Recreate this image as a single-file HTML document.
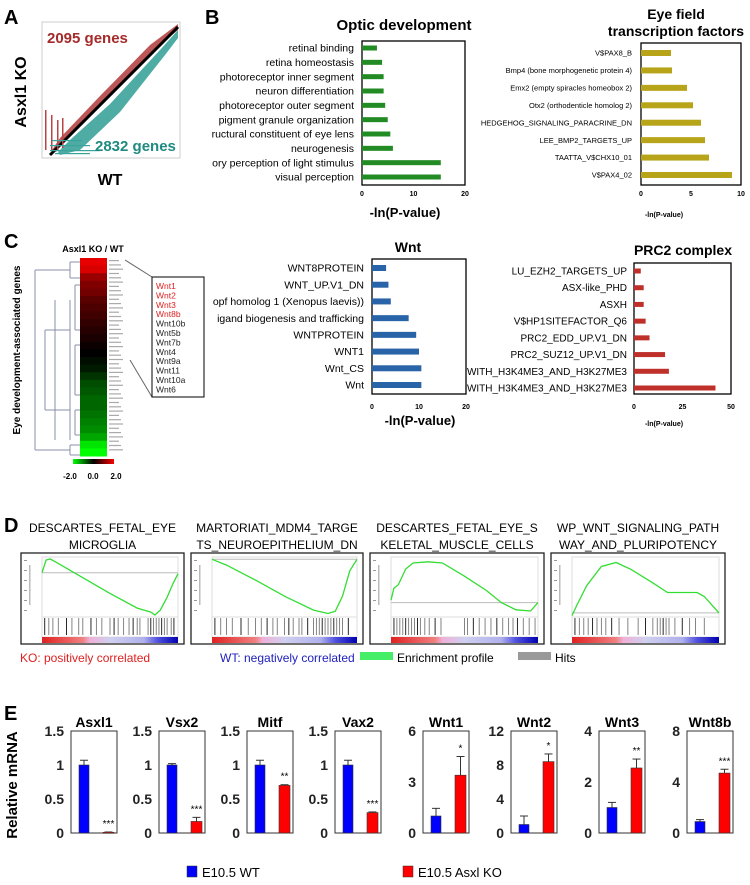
<!DOCTYPE html>
<html><head><meta charset="utf-8"><style>
html,body{margin:0;padding:0;background:#fff}
svg{display:block;font-family:"Liberation Sans",Arial,sans-serif}
</style></head><body>
<svg id="fig" width="750" height="885" viewBox="0 0 750 885" xmlns="http://www.w3.org/2000/svg">
<g>
<text x="4" y="24" font-size="20" font-weight="bold">A</text>
<rect x="42" y="22" width="138" height="136" fill="#fff" stroke="#ccc"/>
<polygon points="52,150 60,138 100,96 150,45 178,24 178,30 160,45 110,95 66,138 56,152" fill="#b23a3a" opacity="0.85"/>
<polygon points="58,152 70,140 110,104 160,50 178,30 178,38 165,55 120,112 80,150 60,155" fill="#2f9e95" opacity="0.85"/>
<line x1="50" y1="155" x2="178" y2="27" stroke="#000" stroke-width="3"/>
<g fill="#b84545">
<rect x="45" y="110" width="1.5" height="40"/><rect x="51" y="115" width="1.5" height="35"/><rect x="57" y="120" width="1.5" height="30"/><rect x="62" y="118" width="1.5" height="30"/></g>
<g fill="#3aa39b">
<rect x="50" y="145" width="40" height="1.2"/><rect x="50" y="150" width="50" height="1.2"/><rect x="52" y="140" width="30" height="1.2"/><rect x="55" y="153" width="35" height="1.2"/></g>
<text x="47" y="43" font-size="15" font-weight="bold" fill="#a52a2a">2095 genes</text>
<text x="95" y="151" font-size="15" font-weight="bold" fill="#1f8a80">2832 genes</text>
<text transform="translate(26,92) rotate(-90)" text-anchor="middle" font-size="16" font-weight="bold">Asxl1 KO</text>
<text x="110" y="185" text-anchor="middle" font-size="16" font-weight="bold">WT</text>
</g>
<text x="205" y="24" font-size="20" font-weight="bold">B</text>
<text x="4" y="248" font-size="20" font-weight="bold">C</text>
<text x="4" y="532" font-size="20" font-weight="bold">D</text>
<text x="4" y="720" font-size="20" font-weight="bold">E</text>
<g id="hbars"></g>
<g>
<text x="93" y="252" text-anchor="middle" font-size="9" font-weight="bold">Asxl1 KO / WT</text>
<text transform="translate(20,350) rotate(-90)" text-anchor="middle" font-size="10" font-weight="bold">Eye development-associated genes</text>
<g id="heat"></g>
<g stroke="#8890a8" fill="none" stroke-width="1">
<path d="M35,270 V450 M35,270 H70 M35,450 H70 M70,262 V278 M70,262 H80 M70,278 H80 M70,300 V440 M55,300 V440 M45,330 V410 M45,330 H70 M45,410 H70 M70,445 V455 M70,445 H80 M70,455 H80 M75,285 V330 M75,285 H80 M75,330 H80 M75,345 V395 M75,345 H80 M75,395 H80 M75,410 V435 M75,410 H80 M75,435 H80"/>
</g>
<g fill="#888" font-size="3" id="genelabels"></g>
<rect x="73" y="459" width="41" height="5" fill="url(#cbar)"/>
<text x="70" y="479" text-anchor="middle" font-size="8" font-weight="bold">-2.0</text>
<text x="93" y="479" text-anchor="middle" font-size="8" font-weight="bold">0.0</text>
<text x="116" y="479" text-anchor="middle" font-size="8" font-weight="bold">2.0</text>
<line x1="125" y1="260" x2="152" y2="277" stroke="#666"/>
<line x1="130" y1="360" x2="152" y2="397" stroke="#666"/>
<rect x="152" y="277" width="52" height="120" fill="#fff" stroke="#000"/>
<g id="inset" font-size="8.5"></g>
</g>
<defs>
<linearGradient id="cbar" x1="0" x2="1"><stop offset="0" stop-color="#00ff00"/><stop offset="0.5" stop-color="#000"/><stop offset="1" stop-color="#ff0000"/></linearGradient>
<linearGradient id="rank" x1="0" x2="1"><stop offset="0" stop-color="#e02020"/><stop offset="0.3" stop-color="#f08080"/><stop offset="0.35" stop-color="#f0b0d8"/><stop offset="0.5" stop-color="#d0d0f0"/><stop offset="0.75" stop-color="#b0b0ee"/><stop offset="0.85" stop-color="#5050e0"/><stop offset="1" stop-color="#0000b0"/></linearGradient>
</defs>
<g id="gsea"></g>
<g>
<text x="20" y="662" font-size="12" fill="#e02020">KO: positively correlated</text>
<text x="220" y="662" font-size="12" fill="#2020c0">WT: negatively correlated</text>
<rect x="360" y="652" width="33" height="8" fill="#44ee66"/>
<text x="397" y="662" font-size="12">Enrichment profile</text>
<rect x="518" y="652" width="33" height="8" fill="#999"/>
<text x="555" y="662" font-size="12">Hits</text>
</g>
<g id="qpcr"></g>
<text transform="translate(17,785) rotate(-90)" text-anchor="middle" font-size="15" font-weight="bold">Relative mRNA</text>
<g>
<rect x="187" y="866" width="10" height="11" fill="#0000ff" stroke="#333" stroke-width="0.5"/>
<text x="202" y="877" font-size="13">E10.5 WT</text>
<rect x="403" y="866" width="10" height="11" fill="#ff0000" stroke="#333" stroke-width="0.5"/>
<text x="418" y="877" font-size="13">E10.5 Asxl KO</text>
</g>
</svg>
<script>
// ---- Panel B/C bar chart data ----
const opticCats=["retinal binding","retina homeostasis","photoreceptor inner segment","neuron differentiation","photoreceptor outer segment","pigment granule organization","ructural constituent of eye lens","neurogenesis","ory perception of light stimulus","visual perception"];
const opticVals=[2.9,3.9,4.2,4.2,4.5,5.0,5.5,6.0,15.3,15.3];
const eyeCats=["V$PAX8_B","Bmp4 (bone morphogenetic protein 4)","Emx2 (empty spiracles homeobox 2)","Otx2 (orthodenticle homolog 2)","HEDGEHOG_SIGNALING_PARACRINE_DN","LEE_BMP2_TARGETS_UP","TAATTA_V$CHX10_01","V$PAX4_02"];
const eyeVals=[3.0,3.1,4.6,5.2,6.0,6.4,6.8,9.1];
const wntCats=["WNT8PROTEIN","WNT_UP.V1_DN","opf homolog 1 (Xenopus laevis))","igand biogenesis and trafficking","WNTPROTEIN","WNT1","Wnt_CS","Wnt"];
const wntVals=[3.0,3.5,4.0,7.8,9.4,10.0,10.5,10.5];
const prcCats=["LU_EZH2_TARGETS_UP","ASX-like_PHD","ASXH","V$HP1SITEFACTOR_Q6","PRC2_EDD_UP.V1_DN","PRC2_SUZ12_UP.V1_DN","WITH_H3K4ME3_AND_H3K27ME3","WITH_H3K4ME3_AND_H3K27ME3"];
const prcVals=[3.5,5.0,5.0,6.0,8.0,16.0,18.0,42.0];
const opticTicks=[0,10,20], eyeTicks=[0,5,10], wntTicks=[0,10,20], prcTicks=[0,25,50];
// ---- Heatmap ----
const heatVals=[1.8,1.7,1.2,1.0,0.9,0.7,0.6,0.5,0.4,0.3,0.2,0.1,0.0,-0.1,-0.2,-0.4,-0.6,-0.7,-0.8,-0.8,-0.9,-1.0,-1.1,-1.3,-1.8,-2.0];
const insetGenes=["Wnt1","Wnt2","Wnt3","Wnt8b","Wnt10b","Wnt5b","Wnt7b","Wnt4","Wnt9a","Wnt11","Wnt10a","Wnt6"];
const insetUp=[true,true,true,true,false,false,false,false,false,false,false,false];
// ---- GSEA ----
const gseaTitles=[["DESCARTES_FETAL_EYE","MICROGLIA"],["MARTORIATI_MDM4_TARGE","TS_NEUROEPITHELIUM_DN"],["DESCARTES_FETAL_EYE_S","KELETAL_MUSCLE_CELLS"],["WP_WNT_SIGNALING_PATH","WAY_AND_PLURIPOTENCY"]];
const gseaX=[[0,0.03,0.06,0.1,0.3,0.5,0.7,0.8,0.83,0.87,0.92,0.96,1.0],[0,0.1,0.3,0.5,0.7,0.8,0.85,0.9,0.95,1],[0,0.02,0.05,0.1,0.15,0.25,0.35,0.5,0.65,0.75,0.85,0.95,1],[0,0.03,0.1,0.2,0.3,0.4,0.55,0.65,0.75,0.85,0.9,1]];
const gseaES=[[0.0,0.13,0.14,0.11,-0.05,-0.21,-0.36,-0.40,-0.43,-0.38,-0.25,-0.12,-0.01],[0,-0.05,-0.18,-0.32,-0.44,-0.47,-0.45,-0.32,-0.1,0.0],[0.02,0.12,0.15,0.28,0.33,0.34,0.33,0.22,0.1,0.0,-0.06,-0.07,0.0],[-0.02,0.05,0.2,0.34,0.37,0.32,0.22,0.15,0.15,0.15,0.12,0.0]];
const gseaYmin=[-0.45,-0.5,-0.12,-0.03], gseaYmax=[0.16,0.02,0.38,0.41];
const gseaHits=[[0.02,0.05,0.08,0.12,0.18,0.22,0.27,0.3,0.36,0.4,0.44,0.5,0.53,0.56,0.6,0.64,0.67,0.7,0.72,0.78,0.8,0.82,0.84,0.86,0.88,0.9,0.92,0.95,0.97],[0.02,0.06,0.1,0.14,0.2,0.25,0.3,0.34,0.38,0.42,0.45,0.5,0.53,0.56,0.6,0.62,0.66,0.7,0.72,0.74,0.76,0.78,0.8,0.82,0.84,0.86,0.88,0.9,0.94],[0.02,0.04,0.06,0.08,0.1,0.12,0.14,0.16,0.18,0.2,0.23,0.26,0.3,0.34,0.5,0.52,0.56,0.6,0.64,0.68,0.72,0.76,0.8,0.83,0.86,0.9,0.94,0.98],[0.02,0.05,0.08,0.11,0.14,0.17,0.2,0.23,0.27,0.32,0.38,0.45,0.5,0.55,0.58,0.6,0.62,0.64,0.66,0.7,0.75,0.8,0.84,0.9]];
// ---- qPCR ----
const genes=["Asxl1","Vsx2","Mitf","Vax2","Wnt1","Wnt2","Wnt3","Wnt8b"];
const yMax=[1.5,1.5,1.5,1.5,6,12,4,8];
const yTicks=[["0","0.5","1","1.5"],["0","0.5","1","1.5"],["0","0.5","1","1.5"],["0","0.5","1","1.5"],["0","3","6"],["0","4","8","12"],["0","2","4"],["0","4","8"]];
const wtVals=[1,1,1,1,1,1,1,0.9];
const wtErr=[0.07,0.02,0.07,0.07,0.45,1.0,0.2,0.15];
const koVals=[0.01,0.17,0.7,0.3,3.4,8.4,2.55,4.7];
const koErr=[0.005,0.06,0.01,0.01,1.1,0.9,0.35,0.3];
const stars=["***","***","**","***","*","*","**","***"];

const NS="http://www.w3.org/2000/svg";
function mk(tag,attrs,parent,text){const e=document.createElementNS(NS,tag);for(const k in attrs)e.setAttribute(k,attrs[k]);if(text!==undefined)e.textContent=text;parent.appendChild(e);return e;}

function hbar(cfg){
  const g=mk('g',{},document.getElementById('hbars'));
  
  
  const {x0,x1,y0,y1,max,cats,vals,ticks,color,fs,by0,by1,bh,labx}=cfg;
  const sx=v=>x0+(x1-x0)*v/max;
  const step=(by1-by0)/(cats.length-1);
  const fr=mk('rect',{x:x0,y:y0,width:x1-x0,height:y1-y0,fill:'#fff',stroke:'#000','stroke-width':1.3},g);
  
  
  cats.forEach((c,i)=>{
    const y=by0+i*step;
    const r=mk('rect',{x:x0,y:y-bh/2,width:sx(vals[i])-x0,height:bh,fill:color},g);
    
    
    const t=mk('text',{x:labx,y:y+fs*0.35,'text-anchor':'end','font-size':fs},g,c);
    
    
  });
  ticks.forEach(tv=>{
    const t=mk('text',{x:sx(tv),y:cfg.ty,'text-anchor':'middle','font-size':7,'font-weight':'bold'},g,String(tv));
    
    
  });
  cfg.titles.forEach((tt,i)=>{
    const t=mk('text',{x:cfg.tx,y:cfg.tyy+i*17,'text-anchor':'middle','font-size':cfg.tfs,'font-weight':'bold'},g,tt);
    
    
  });
  if(cfg.xl){const t=mk('text',{x:cfg.xl[0],y:cfg.xl[1],'text-anchor':'middle','font-size':cfg.xl[2],'font-weight':'bold'},g,'-ln(P-value)');
    
    }
}
hbar({name:'optic-development-chart',x0:362,x1:465,y0:41,y1:185,max:20,cats:opticCats,vals:opticVals,ticks:opticTicks,color:'#238b23',fs:10.5,by0:48,by1:177,bh:5,labx:354,ty:196,titles:['Optic development'],tx:404,tyy:30,tfs:15,xl:[405,217,13]});
hbar({name:'eye-field-chart',x0:641,x1:741,y0:43,y1:185,max:10,cats:eyeCats,vals:eyeVals,ticks:eyeTicks,color:'#b8a418',fs:7.5,by0:53,by1:175,bh:6,labx:632,ty:196,titles:['Eye field','transcription factors'],tx:676,tyy:19,tfs:14,xl:[664,217,7]});
hbar({name:'wnt-chart',x0:372,x1:466,y0:259,y1:394,max:20,cats:wntCats,vals:wntVals,ticks:wntTicks,color:'#2a64a8',fs:10.5,by0:268,by1:385,bh:6,labx:364,ty:409,titles:['Wnt'],tx:408,tyy:252,tfs:14,xl:[420,425,13]});
hbar({name:'prc2-chart',x0:634,x1:731,y0:263,y1:394,max:50,cats:prcCats,vals:prcVals,ticks:prcTicks,color:'#c0302a',fs:10,by0:271,by1:388,bh:5,labx:627,ty:409,titles:['PRC2 complex'],tx:683,tyy:255,tfs:14,xl:[664,426,7]});

// heatmap
(function(){
  const g=document.getElementById('heat');
  const y0=258,y1=456,h=(y1-y0)/heatVals.length;
  function col(v){const a=Math.min(1,Math.abs(v)/2);const c=Math.round(255*a);return v>=0?`rgb(${c},0,0)`:`rgb(0,${c},0)`;}
  heatVals.forEach((v,i)=>{
    const r=mk('rect',{x:80,y:y0+i*h,width:27,height:h+0.5,fill:col(v)},g);
    
    
  });
  const gl=document.getElementById('genelabels');
  for(let i=0;i<45;i++){mk('rect',{x:109,y:260+i*4.3,width:10+(i%3)*2,height:1.2,fill:'#aaa'},gl);}
  const ig=document.getElementById('inset');
  insetGenes.forEach((gname,i)=>{
    const t=mk('text',{x:156,y:289+i*9.4,fill:insetUp[i]?'#e02020':'#222','font-size':8.5},ig,gname);
    
    
  });
})();

// GSEA
(function(){
  const root=document.getElementById('gsea');
  const boxes=[[21,184],[191,363],[370,544],[551,725]];
  boxes.forEach((b,k)=>{
    const g=mk('g',{},root);
    
    
    const [bl,br]=b, cx=(bl+br)/2;
    gseaTitles[k].forEach((t,i)=>{const e=mk('text',{x:cx,y:532+i*17,'text-anchor':'middle','font-size':12},g,t);
      
      });
    const fr=mk('rect',{x:bl,y:553,width:br-bl,height:91,fill:'#fff',stroke:'#222','stroke-width':1.3},g);
    
    
    const px0=bl+21,px1=br-6,py0=557,py1=617;
    mk('rect',{x:px0,y:py0,width:px1-px0,height:py1-py0,fill:'none',stroke:'#ddd'},g);
    const sx=v=>px0+(px1-px0)*v, sy=v=>py1-(py1-py0)*(v-gseaYmin[k])/(gseaYmax[k]-gseaYmin[k]);
    mk('line',{x1:px0,x2:px1,y1:sy(0),y2:sy(0),stroke:'#bbb'},g);
    for(let i=0;i<6;i++){mk('rect',{x:bl+3,y:py0+3+i*10,width:3,height:1,fill:'#999'},g);}
    mk('rect',{x:bl+8,y:565,width:1.5,height:40,fill:'#bbb'},g);
    const pts=gseaX[k].map((x,i)=>sx(x).toFixed(1)+','+sy(gseaES[k][i]).toFixed(1)).join(' ');
    const pl=mk('polyline',{points:pts,fill:'none',stroke:'#33dd33','stroke-width':1.3},g);
    
    
    mk('rect',{x:px0,y:py1,width:px1-px0,height:20,fill:'#fff',stroke:'#ddd'},g);
    gseaHits[k].forEach((h,i)=>{const l=mk('line',{x1:sx(h),x2:sx(h),y1:py1+1,y2:py1+18,stroke:i%4===0?'#111':'#777','stroke-width':0.9},g);
      
      });
    const rb=mk('rect',{x:px0,y:637,width:px1-px0,height:6,fill:'url(#rank)'},g);
    
    
  });
})();

// qPCR
(function(){
  const root=document.getElementById('qpcr');
  const top=731,bot=833,w=46;
  genes.forEach((gname,k)=>{
    const bl=71+k*88;
    const g=mk('g',{},root);
    
    
    const sy=v=>bot-(bot-top)*v/yMax[k];
    const t=mk('text',{x:bl+w/2,y:727,'text-anchor':'middle','font-size':14,'font-weight':'bold'},g,gname);
    
    
    const fr=mk('rect',{x:bl,y:top,width:w,height:bot-top,fill:'#fff',stroke:'#333','stroke-width':1},g);
    
    
    yTicks[k].forEach(tv=>{const e=mk('text',{x:bl-7,y:sy(parseFloat(tv))+5,'text-anchor':'end','font-size':14,'font-weight':'bold','fill':'#222'},g,tv);
      
      });
    [[wtVals,wtErr,bl+8,10,'#0000ff'],[koVals,koErr,bl+32,11,'#ff0000']].forEach(([vals,errs,x,bw,c],j)=>{
      const v=vals[k],e=errs[k];
      const ex=x+bw/2;
      mk('line',{x1:ex,x2:ex,y1:sy(v),y2:sy(v+e),stroke:'#333','stroke-width':1},g);
      mk('line',{x1:ex-4,x2:ex+4,y1:sy(v+e),y2:sy(v+e),stroke:'#333','stroke-width':1},g);
      const r=mk('rect',{x:x,y:sy(v),width:bw,height:Math.max(1,bot-sy(v)),fill:c,stroke:'#333','stroke-width':0.6},g);
      
      
    });
    const s=mk('text',{x:bl+37.5,y:sy(koVals[k]+koErr[k])-5,'text-anchor':'middle','font-size':10},g,stars[k]);
    
    
  });
})();
</script>
</body></html>
